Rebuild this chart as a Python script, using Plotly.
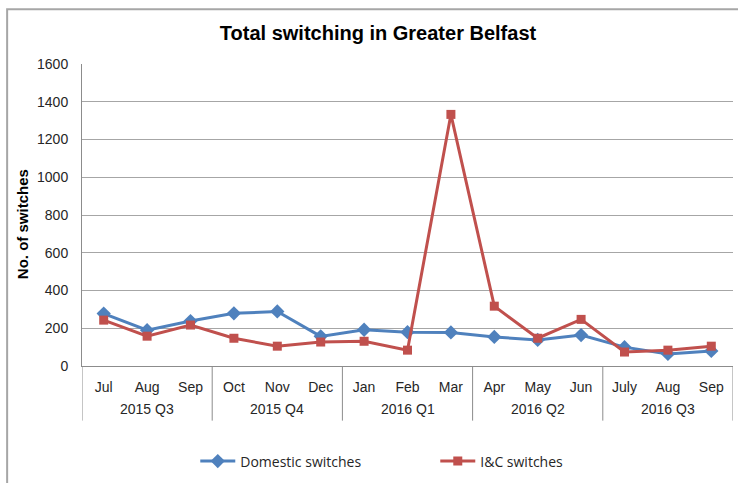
import plotly.graph_objects as go

# Monthly switching counts, Greater Belfast, Jul 2015 - Sep 2016
quarters = ["2015 Q3"] * 3 + ["2015 Q4"] * 3 + ["2016 Q1"] * 3 + ["2016 Q2"] * 3 + ["2016 Q3"] * 3
months = ["Jul", "Aug", "Sep", "Oct", "Nov", "Dec", "Jan", "Feb", "Mar",
          "Apr", "May", "Jun", "July", "Aug", "Sep"]
domestic = [278, 190, 238, 279, 289, 157, 192, 179, 178, 154, 138, 164, 100, 64, 80]
ic_switches = [243, 158, 217, 147, 105, 127, 131, 84, 1333, 317, 147, 247, 74, 84, 105]

xs = list(range(len(months)))

fig = go.Figure()
fig.add_trace(go.Scatter(
    x=xs, y=domestic, name="Domestic switches", mode="lines+markers",
    line=dict(color="#4f81bd", width=3),
    marker=dict(symbol="diamond", size=11, color="#4f81bd"),
))
fig.add_trace(go.Scatter(
    x=xs, y=ic_switches, name="I&C switches", mode="lines+markers",
    line=dict(color="#c0504d", width=3),
    marker=dict(symbol="square", size=9, color="#c0504d"),
))

font_family = "Liberation Sans, Arial, sans-serif"
axis_font = dict(family=font_family, size=14, color="#262626")

# Quarter groups: centre labels and boundary dividers below the month row
groups = []
for i, q in enumerate(quarters):
    if not groups or groups[-1][0] != q:
        groups.append([q, i, i])
    else:
        groups[-1][2] = i

label_depth = -(423 - 368) / 304
annotations = [
    dict(text="<b>No. of switches</b>", textangle=-90, xref="paper", yref="paper",
         x=-0.092, y=0.47, xanchor="center", yanchor="middle", showarrow=False,
         font=dict(family=font_family, size=15, color="black")),
]
shapes = [
    dict(type="rect", xref="paper", yref="paper",
         x0=-0.115, y0=-0.5, x1=1.1, y1=1.181,
         line=dict(color="#a6a6a6", width=2), layer="below"),
]
for q, start, end in groups:
    annotations.append(dict(
        text=q, x=(start + end) / 2, xref="x", y=(368 - 411) / 304, yref="paper",
        xanchor="center", yanchor="middle", showarrow=False, font=axis_font))
    shapes.append(dict(type="line", xref="x", yref="paper",
                       x0=start - 0.5, x1=start - 0.5, y0=0, y1=label_depth,
                       line=dict(color="#8c8c8c", width=1)))
shapes.append(dict(type="line", xref="x", yref="paper",
                   x0=groups[-1][2] + 0.5, x1=groups[-1][2] + 0.5, y0=0, y1=label_depth,
                   line=dict(color="#8c8c8c", width=1)))

fig.update_layout(
    width=738, height=483,
    margin=dict(l=82, r=5, t=64, b=115),
    paper_bgcolor="white", plot_bgcolor="white",
    title=dict(text="<b>Total switching in Greater Belfast</b>",
               x=378 / 738, xref="container", xanchor="center",
               y=1 - 33 / 483, yref="container", yanchor="middle",
               font=dict(family=font_family, size=20, color="black")),
    showlegend=True,
    legend=dict(orientation="h", x=0.174, xanchor="left", y=-0.316, yanchor="middle",
                font=dict(family="Open Sans, Liberation Sans, sans-serif", size=14, color="#262626"),
                entrywidth=190, entrywidthmode="pixels", itemwidth=35),
    xaxis=dict(
        range=[-0.5, len(months) - 0.5], tickmode="array", tickvals=xs, ticktext=months,
        tickfont=axis_font, showline=True, linecolor="#8c8c8c", linewidth=1,
        showgrid=False, zeroline=False, ticks="", ticklabelstandoff=8,
    ),
    yaxis=dict(
        range=[0, 1600], dtick=200, tickfont=axis_font,
        showgrid=True, gridcolor="#a6a6a6", gridwidth=1,
        showline=True, linecolor="#8c8c8c", linewidth=1,
        ticks="", ticklabelstandoff=10, zeroline=False,
    ),
    shapes=shapes,
    annotations=annotations,
)

fig.write_html("out.html")
